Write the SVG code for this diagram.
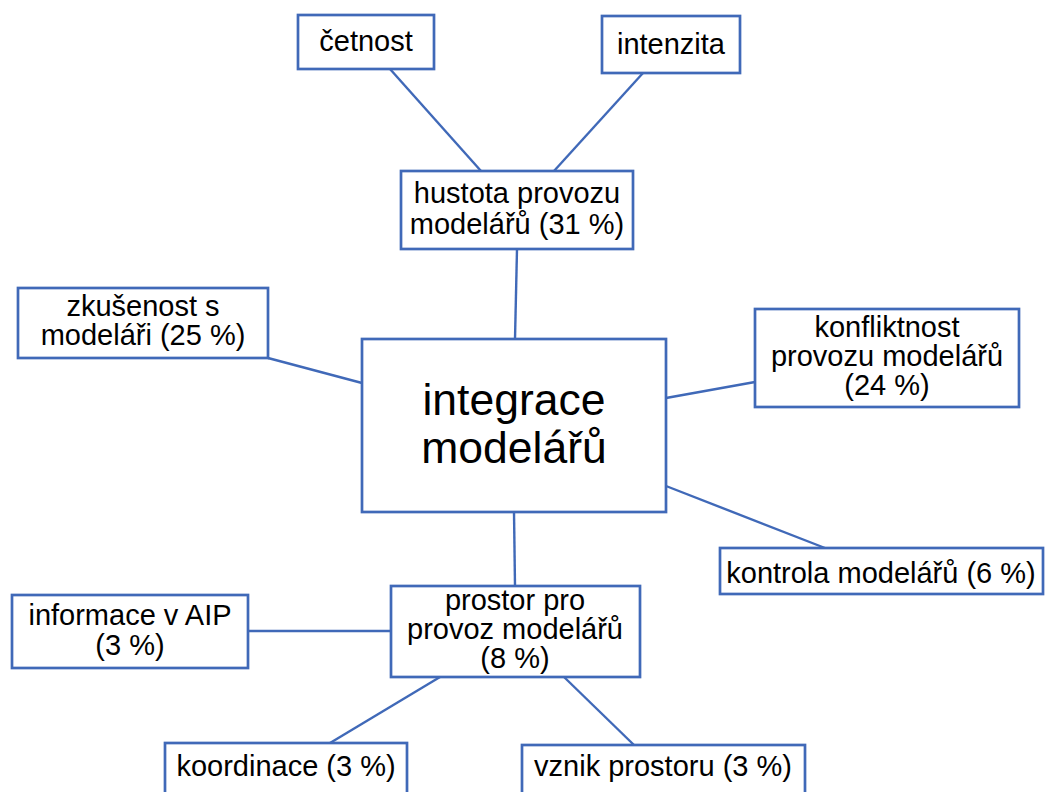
<svg xmlns="http://www.w3.org/2000/svg" width="1045" height="792" viewBox="0 0 1045 792">
<style>
.box{fill:#fff;stroke:#4069B8;stroke-width:2.7}
.con line{stroke:#4069B8;stroke-width:2.4}
text{font-family:"Liberation Sans",Arial,sans-serif;font-size:29px;fill:#000;text-anchor:middle}
.big{font-size:44.5px}
</style>
<rect width="1045" height="792" fill="#fff"/>
<g class="con" id="connectors">
<line x1="390" y1="69" x2="481" y2="171"/>
<line x1="643" y1="73" x2="554" y2="171"/>
<line x1="517" y1="249" x2="515" y2="339"/>
<line x1="268" y1="358" x2="362" y2="383"/>
<line x1="666" y1="398" x2="755" y2="382"/>
<line x1="666" y1="486" x2="825" y2="548"/>
<line x1="514" y1="512" x2="515" y2="586"/>
<line x1="248" y1="631" x2="391" y2="631"/>
<line x1="440" y1="677" x2="330" y2="743"/>
<line x1="564" y1="677" x2="634" y2="745"/>
</g>
<g id="cetnost"><rect class="box" x="298" y="15" width="136" height="54"/><text x="366" y="51">četnost</text></g>
<g id="intenzita"><rect class="box" x="602" y="16" width="138" height="57"/><text x="671" y="54">intenzita</text></g>
<g id="hustota"><rect class="box" x="401" y="171" width="232" height="78"/><text x="517" y="203">hustota provozu</text><text x="517" y="234">modelářů (31 %)</text></g>
<g id="integrace"><rect class="box" x="362" y="339" width="304" height="173"/><text class="big" x="514" y="415">integrace</text><text class="big" x="514" y="463">modelářů</text></g>
<g id="zkusenost"><rect class="box" x="18" y="288" width="250" height="70"/><text x="143" y="316">zkušenost s</text><text x="143" y="345">modeláři (25 %)</text></g>
<g id="konfliktnost"><rect class="box" x="755" y="309" width="264" height="98"/><text x="887" y="337">konfliktnost</text><text x="887" y="366">provozu modelářů</text><text x="887" y="395">(24 %)</text></g>
<g id="kontrola"><rect class="box" x="720" y="548" width="323" height="46"/><text x="881" y="583">kontrola modelářů (6 %)</text></g>
<g id="prostor"><rect class="box" x="391" y="586" width="249" height="91"/><text x="515" y="610">prostor pro</text><text x="515" y="639">provoz modelářů</text><text x="515" y="668">(8 %)</text></g>
<g id="informace"><rect class="box" x="12" y="595" width="236" height="73"/><text x="130" y="625">informace v AIP</text><text x="130" y="655">(3 %)</text></g>
<g id="koordinace"><rect class="box" x="165" y="743" width="242" height="70"/><text x="286" y="776">koordinace (3 %)</text></g>
<g id="vznik"><rect class="box" x="522" y="745" width="283" height="70"/><text x="663" y="776">vznik prostoru (3 %)</text></g>
</svg>
